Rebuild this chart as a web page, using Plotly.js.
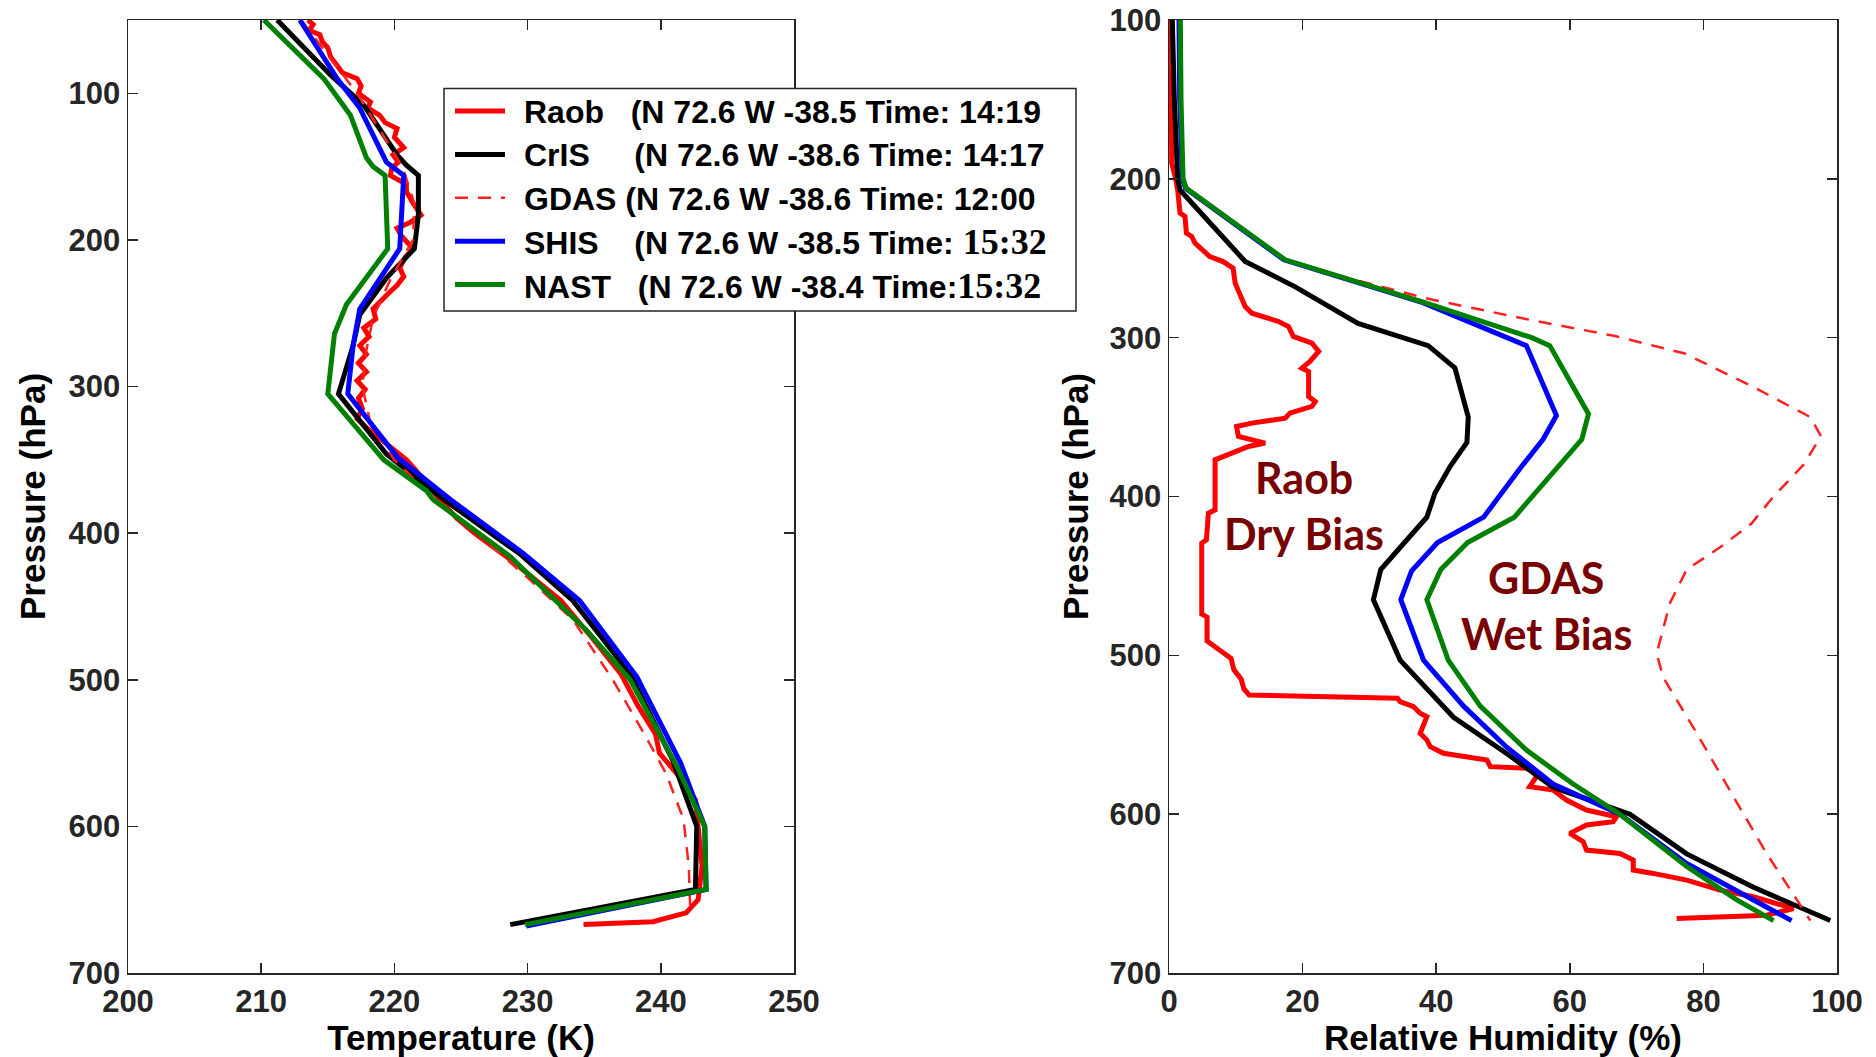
<!DOCTYPE html>
<html>
<head>
<meta charset="utf-8">
<script src="https://cdn.plot.ly/plotly-3.0.1.min.js"></script>
<style>
html,body{margin:0;padding:0;background:#fff;}
#chart{width:1876px;height:1057px;}
</style>
</head>
<body>
<div id="chart"></div>
<script>
// ---------- Temperature profiles (K) vs pressure (hPa) ----------
const raobTP = [50, 53, 57, 60, 65, 69, 75, 81, 86, 90, 95, 100, 106, 110, 115, 120, 124, 130, 137, 142, 147, 151, 156, 162, 167, 175, 183, 188, 192, 197, 206, 212, 219, 225, 231, 236, 240, 247, 254, 260, 266, 272, 278, 284, 290, 296, 302, 308, 315, 322, 328, 334, 343, 350, 357, 365, 377, 390, 400, 418, 446, 471, 496, 518, 537, 550, 564, 582, 605, 627, 650, 659, 665, 667];
const raobT  = [213.5, 213.9, 213.6, 214.4, 214.6, 215.0, 215.2, 215.7, 216.1, 217.2, 217.5, 217.3, 218.2, 218.0, 218.9, 219.3, 220.2, 220.0, 220.7, 219.9, 220.3, 219.8, 219.7, 220.9, 220.9, 221.4, 222.0, 221.2, 220.2, 220.5, 221.4, 220.8, 220.4, 220.7, 220.2, 219.6, 219.2, 218.4, 218.6, 217.7, 218.1, 217.4, 217.9, 217.3, 217.9, 217.2, 217.8, 217.3, 217.6, 217.2, 217.9, 218.7, 220.0, 220.9, 221.6, 222.3, 223.4, 224.7, 226.0, 228.7, 232.5, 234.8, 237.0, 238.3, 239.6, 239.9, 241.2, 242.6, 242.9, 243.1, 242.8, 241.9, 239.4, 234.2];

const crisTP = [50, 87.5, 108, 142, 149, 156, 183, 206, 226, 251, 272, 305, 346, 377, 414, 446, 496, 555, 600, 643, 667];
const crisT  = [211.2, 215.2, 217.7, 220.2, 220.9, 221.8, 221.8, 221.5, 219.4, 217.4, 216.9, 215.8, 219.4, 223.7, 229.4, 233.4, 237.7, 240.9, 242.7, 242.6, 228.7];

const gdasTP = [50, 100, 150, 175, 200, 225, 253, 275, 300, 325, 350, 375, 400, 432, 459, 500, 536, 564, 595, 627, 654];
const gdasT  = [213.0, 217.2, 220.6, 221.5, 221.4, 219.8, 218.4, 217.9, 217.6, 218.2, 220.0, 222.8, 226.2, 230.2, 233.4, 236.4, 238.7, 240.4, 241.7, 242.1, 242.2];

const shisTP = [50, 90, 110, 147, 156, 206, 247, 272, 305, 348, 377, 414, 446, 498, 557, 600, 643, 668];
const shisT  = [212.9, 215.7, 217.4, 219.4, 220.7, 220.4, 217.4, 216.9, 216.5, 220.2, 224.2, 229.7, 233.9, 238.2, 241.5, 243.3, 243.4, 229.9];

const nastTP = [50, 90, 115, 144, 150, 156, 206, 244, 264, 305, 350, 371, 377, 416, 466, 500, 559, 600, 643, 667];
const nastT  = [210.2, 214.7, 216.7, 217.9, 218.4, 219.3, 219.5, 216.4, 215.5, 215.0, 219.2, 222.4, 222.9, 228.7, 234.4, 237.7, 241.2, 243.3, 243.4, 229.8];

// ---------- Relative humidity profiles (%) vs pressure (hPa) ----------
const raobRHP = [100, 150, 190, 200, 207, 221.6, 223.7, 234.2, 236.3, 240.5, 244.7, 248.9, 252.1, 256.3, 265.7, 272, 280.4, 284.6, 289.8, 293, 299.2, 303.4, 308.7, 315, 319.2, 321.3, 337, 340.2, 343.3, 347.5, 350.7, 353.8, 355.9, 362.2, 366.4, 368.5, 373.8, 376.9, 408.4, 410.5, 427.3, 429.4, 474, 476, 491, 496, 502, 509, 515, 521, 525, 527, 529.2, 532.3, 536.5, 538.6, 544.9, 549.1, 553.3, 557.5, 561.7, 565.9, 570.1, 571.2, 576.4, 582.7, 584.8, 591.1, 597.4, 601.6, 604.7, 606.8, 612.1, 617.3, 622.6, 624.7, 628.9, 635.2, 637.3, 641.5, 647.8, 652, 659.4, 663.6, 665.7];
const raobRH  = [0.3, 0.3, 0.4, 1.0, 1.3, 1.65, 2.4, 2.6, 3.4, 3.9, 4.9, 6.1, 8.1, 9.6, 9.9, 10.6, 11.4, 12.4, 16.4, 17.9, 18.6, 21.4, 22.4, 21.1, 19.9, 20.9, 20.9, 21.9, 21.4, 18.1, 17.4, 12.4, 10.1, 10.4, 14.4, 11.9, 8.4, 6.9, 6.9, 5.9, 5.6, 4.9, 4.9, 5.7, 5.7, 7.3, 9.3, 9.7, 10.8, 11.2, 12.0, 34.2, 34.6, 36.6, 37.6, 38.6, 38.1, 37.6, 38.6, 39.1, 41.1, 47.6, 48.1, 54.5, 55.0, 54.0, 57.5, 59.5, 62.5, 67.0, 66.5, 62.5, 60.0, 62.0, 62.5, 67.5, 69.5, 69.5, 72.5, 77.5, 82.5, 87.5, 93.5, 89.5, 76.0];

const crisRHP = [100, 150, 200, 207, 252, 268, 291, 305, 319, 350, 366, 381, 398, 413, 446, 465, 503, 539, 562, 583, 600, 625, 646, 667];
const crisRH  = [0.5, 0.8, 1.3, 1.65, 11.4, 18.9, 28.3, 38.8, 42.8, 44.8, 44.6, 42.1, 39.8, 38.6, 31.7, 30.6, 34.6, 42.6, 50.6, 57.5, 69.0, 77.5, 87.5, 99.0];

const gdasRHP = [100, 150, 200, 206, 251, 262, 276, 289, 299, 310, 330, 350, 362, 380, 400, 417, 432, 446, 467, 499, 514, 549, 589, 625, 654, 667];
const gdasRH  = [1.7, 1.8, 2.1, 2.6, 17.4, 26.3, 39.3, 54.3, 66.8, 77.2, 87.0, 96.0, 97.6, 95.0, 90.5, 87.2, 82.5, 77.5, 75.0, 73.0, 74.0, 79.0, 84.5, 89.5, 94.0, 96.0];

const shisRHP = [100, 150, 200, 206, 251, 278, 305, 349, 364, 381, 413, 429, 447, 465, 503, 532, 558, 581, 600, 631, 654, 667];
const shisRH  = [1.5, 1.6, 2.0, 2.5, 17.2, 38.0, 53.5, 58.0, 56.0, 52.8, 47.1, 40.2, 36.3, 34.7, 38.1, 44.1, 50.6, 57.5, 67.5, 77.5, 87.5, 93.2];

const nastRHP = [100, 150, 200, 206, 251, 278, 300, 305, 348, 364, 413, 429, 446, 465, 503, 532, 560, 581, 600, 633, 654, 667];
const nastRH  = [1.7, 1.8, 2.1, 2.6, 17.4, 38.3, 54.3, 57.0, 62.8, 61.8, 51.7, 44.7, 40.7, 38.6, 41.8, 46.6, 53.6, 60.5, 67.5, 77.5, 85.0, 90.5];

// ---------- Labels ----------
const seriesNames = ['Raob', 'CrIS', 'GDAS', 'SHIS', 'NAST'];
const seriesPad   = [3, 5, 1, 4, 3];
const seriesLat   = ['72.6', '72.6', '72.6', '72.6', '72.6'];
const seriesLon   = ['-38.5', '-38.6', '-38.6', '-38.5', '-38.4'];
const seriesTime  = ['14:19', '14:17', '12:00', '15:32', '15:32'];
const tempTicks = [200, 210, 220, 230, 240, 250];
const rhTicks = [0, 20, 40, 60, 80, 100];
const presTicks = [100, 200, 300, 400, 500, 600, 700];
const biasNotes = [['Raob', 'Dry Bias'], ['GDAS', 'Wet Bias']];

const FONT = "'Liberation Sans', Arial, Helvetica, sans-serif";
const NOTE_FONT = "Lato, 'Open Sans', sans-serif";
const NB = '\u00A0';

function legendLabel(i) {
  const serifTime = (i >= 3);
  const timeTxt = serifTime
    ? '<span style="font-family:Liberation Serif;font-size:36px;font-weight:bold">' + seriesTime[i] + '</span>'
    : seriesTime[i];
  const sepBeforeTime = (i === 4) ? '' : NB;
  return seriesNames[i] + NB.repeat(seriesPad[i]) + '(N' + NB + seriesLat[i] + NB + 'W' + NB + seriesLon[i] + NB + 'Time:' + sepBeforeTime + timeTxt;
}

const styles = [
  {color: '#ff0000', width: 5, dash: 'solid'},
  {color: '#000000', width: 5, dash: 'solid'},
  {color: '#ff2020', width: 2.5, dash: '13px,10px'},
  {color: '#0000ff', width: 5, dash: 'solid'},
  {color: '#008000', width: 5, dash: 'solid'}
];

const tSets = [[raobT, raobTP], [crisT, crisTP], [gdasT, gdasTP], [shisT, shisTP], [nastT, nastTP]];
const rhSets = [[raobRH, raobRHP], [crisRH, crisRHP], [gdasRH, gdasRHP], [shisRH, shisRHP], [nastRH, nastRHP]];

const traces = [];
tSets.forEach((s, i) => {
  traces.push({
    type: 'scatter', mode: 'lines', x: s[0], y: s[1], xaxis: 'x', yaxis: 'y',
    name: seriesNames[i], line: styles[i], showlegend: false
  });
});
rhSets.forEach((s, i) => {
  traces.push({
    type: 'scatter', mode: 'lines', x: s[0], y: s[1], xaxis: 'x2', yaxis: 'y2',
    name: seriesNames[i], line: styles[i], showlegend: false
  });
});

// ---------- page geometry (pixels) ----------
const W = 1876, H = 1057;
const M = {l: 128, r: 39, t: 20, b: 84};
const PW = W - M.l - M.r, PH = H - M.t - M.b;
const px = X => (X - M.l) / PW;          // page x pixel -> paper fraction
const py = Y => 1 - (Y - M.t) / PH;      // page y pixel -> paper fraction

// legend box built by hand (the original's line samples are longer than Plotly's)
const LEG = {x0: 444, x1: 1076, y0: 88.5, y1: 311, sx0: 455, sx1: 505, tx: 522, row0: 111, step: 43.4};

const shapes = [{
  type: 'rect', xref: 'paper', yref: 'paper',
  x0: px(LEG.x0), x1: px(LEG.x1), y0: py(LEG.y1), y1: py(LEG.y0),
  line: {color: '#262626', width: 1.5}, fillcolor: '#ffffff', layer: 'above'
}];
const annotations = [];
seriesNames.forEach((n, i) => {
  const Y = LEG.row0 + i * LEG.step;
  shapes.push({
    type: 'line', xref: 'paper', yref: 'paper',
    x0: px(LEG.sx0), x1: px(LEG.sx1), y0: py(Y), y1: py(Y),
    line: {color: styles[i].color, width: styles[i].width, dash: styles[i].dash}, layer: 'above'
  });
  annotations.push({
    xref: 'paper', yref: 'paper', x: px(LEG.tx), y: py(Y + 1),
    xanchor: 'left', yanchor: 'middle', showarrow: false,
    text: legendLabel(i),
    font: {family: FONT, size: 32, color: '#000000', weight: 'bold'}
  });
});
const noteFont = {family: NOTE_FONT, size: 43, color: '#780000', weight: 'bold'};
[[20.2, 388], [20.2, 423.5], [56.5, 451], [56.5, 486]].forEach((pos, k) => {
  annotations.push({
    xref: 'x2', yref: 'y2', x: pos[0], y: pos[1], showarrow: false,
    text: biasNotes[Math.floor(k / 2)][k % 2], font: noteFont
  });
});

const axisCommon = {
  showline: true, linecolor: '#262626', linewidth: 1.5, mirror: 'ticks',
  ticks: 'inside', ticklen: 10, tickwidth: 1.5, tickcolor: '#262626',
  showgrid: false, zeroline: false,
  tickfont: {family: FONT, size: 31, color: '#262626', weight: 'bold'}
};
const titleFont = {family: FONT, size: 35, color: '#000000', weight: 'bold'};

const layout = {
  width: W, height: H,
  margin: M,
  paper_bgcolor: '#ffffff', plot_bgcolor: '#ffffff',
  showlegend: false,
  xaxis: Object.assign({}, axisCommon, {
    domain: [0, px(794)], range: [200, 250], tickvals: tempTicks, anchor: 'y',
    title: {text: 'Temperature (K)', font: titleFont, standoff: 8}
  }),
  yaxis: Object.assign({}, axisCommon, {
    domain: [0, 1], range: [700, 50], tickvals: presTicks, anchor: 'x',
    title: {text: 'Pressure (hPa)', font: titleFont, standoff: 12}
  }),
  xaxis2: Object.assign({}, axisCommon, {
    domain: [px(1169), 1], range: [0, 100], tickvals: rhTicks, anchor: 'y2',
    title: {text: 'Relative Humidity (%)', font: titleFont, standoff: 8}
  }),
  yaxis2: Object.assign({}, axisCommon, {
    domain: [0, 1], range: [700, 100], tickvals: presTicks, anchor: 'x2',
    title: {text: 'Pressure (hPa)', font: titleFont, standoff: 10}
  }),
  shapes: shapes,
  annotations: annotations
};

Plotly.newPlot('chart', traces, layout, {displayModeBar: false, staticPlot: true});
</script>
</body>
</html>
